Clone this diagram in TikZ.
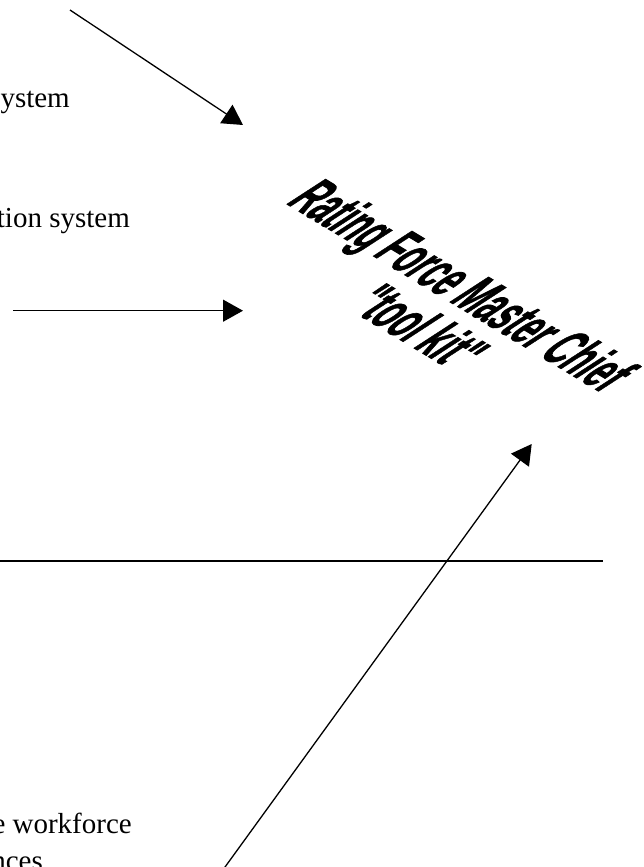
\documentclass[tikz,border=0pt]{standalone}
\usepackage{fontspec}
\setmainfont{Liberation Serif}
\newfontfamily\wordartfont{Liberation Sans}[BoldFeatures={FakeBold=1.5}]
\usetikzlibrary{arrows.meta}

\begin{document}
\begin{tikzpicture}[x=1pt,y=-1pt,
  conn/.style={line width=1.3pt, -{Triangle[length=20pt,width=22pt]}},
  rule/.style={line width=1.6pt},
  sidetext/.style={anchor=base east, inner sep=0pt, font=\fontsize{29}{33}\selectfont},
  wordart/.style={anchor=base west, inner sep=0pt, transform shape,
    font=\wordartfont\bfseries\fontsize{31}{31}\selectfont}]
\useasboundingbox (0,0) rectangle (643,867);
\clip (0,0) rectangle (643,867);

% labels running in from the left edge
\node[sidetext] (sysA) at (70,107) {ystem};
\node[sidetext] (sysB) at (130,227) {tion system};
\node[sidetext] (work) at (132,833) {e workforce};
\node[sidetext] (nces) at (43,870) {nces};

% slanted, stretched title
\begin{scope}[cm={0.823,-0.494,1.804,1.172,(285,203)}]
  \node[wordart] (title) at (0,0) {Rating Force Master Chief};
  \node[wordart] (kit) at (140,30) {"tool kit"};
\end{scope}

% arrow end points
\coordinate (topS) at (70,10);
\coordinate (topE) at (243,125);
\coordinate (midS) at (13,310.7);
\coordinate (midE) at (243,310.7);
\coordinate (lowS) at (215.6,880);
\coordinate (lowE) at (531.7,444);
\coordinate (ruleL) at (0,561);
\coordinate (ruleR) at (603,561);

\draw[conn] (topS) -- (topE);
\draw[conn] (midS) -- (midE);
\draw[conn] (lowS) -- (lowE);
\draw[rule] (ruleL) -- (ruleR);
\end{tikzpicture}
\end{document}
